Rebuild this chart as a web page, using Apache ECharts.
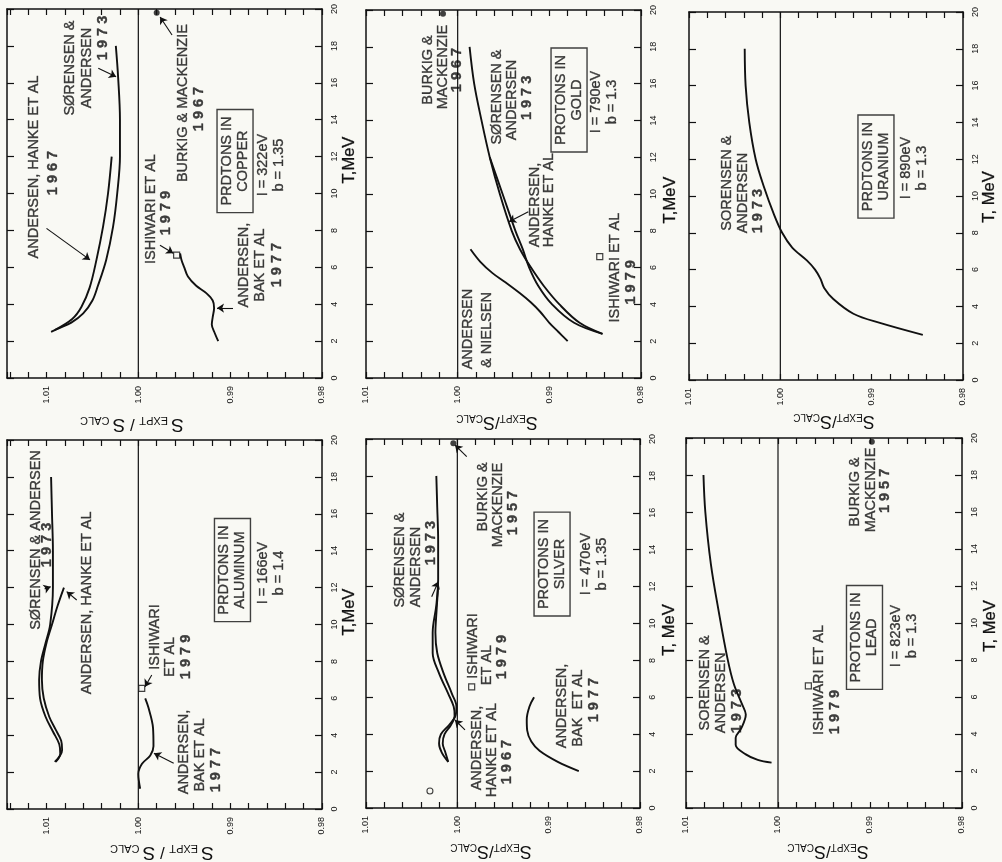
<!DOCTYPE html>
<html>
<head>
<meta charset="utf-8">
<title>Protons: S expt / S calc</title>
<script src="https://cdn.jsdelivr.net/npm/echarts@6.0.0/dist/echarts.min.js"></script>
<style>
html,body{margin:0;padding:0;background:#f9f9f4;}
#chart{width:1002px;height:862px;}
</style>
</head>
<body>
<div id="chart"></div>
<script>
// ================= tick labels =================
const sTickLabels = ['0.98', '0.99', '1.00', '1.01'];
const tTickLabels = ['0', '2', '4', '6', '8', '10', '12', '14', '16', '18', '20'];
const unityRatio = 1.00;

// ================= curves: [T (MeV), S_expt/S_calc] =================
// Copper
const copperSorensen = [[2.5,1.0095],[2.7,1.0086],[3.0,1.0073],[3.5,1.0060],[4.2,1.0050],[5.0,1.0044],[6.4,1.0035],[8.2,1.00275],[10.0,1.0023],[12.0,1.0020],[14.0,1.0020],[16.3,1.0022],[18.0,1.00245]];
const copperHanke = [[2.6,1.0091],[3.2,1.0072],[3.85,1.0062],[4.9,1.0053],[6.4,1.00456],[8.2,1.00384],[10.0,1.0033],[12.0,1.0029]];
const copperBak = [[6.75,0.99545],[6.4,0.9953],[6.0,0.9950],[5.5,0.9946],[5.0,0.9937],[4.6,0.9926],[4.2,0.9919],[3.8,0.99175],[3.3,0.9919],[2.9,0.9920],[2.4,0.99165],[2.0,0.9913]];
const copperIshiwari = [[6.66,0.99583]];
const copperBurkig = [[19.8,0.9980]];

// Gold
const goldSorensen = [[18,0.9987],[16,0.9982],[14,0.9974],[12,0.9965],[10,0.9954],[8,0.9941],[7,0.9932],[6,0.9920],[5,0.9906],[4,0.9889],[3,0.9867],[2.4,0.9842]];
const goldHanke = [[12,0.9965],[10,0.9951],[8,0.9937],[7,0.9929],[6,0.9922],[5,0.9912],[4,0.9897],[3,0.9873],[2.4,0.9842]];
const goldNielsen = [[7.0,0.9986],[6.3,0.9975],[5.7,0.9962],[5.2,0.9948],[4.6,0.9932],[4.1,0.9920],[3.6,0.9910],[3.0,0.9900],[2.5,0.9890],[2.0,0.9880]];
const goldIshiwari = [[6.6,0.9845]];
const goldBurkig = [[19.8,1.0016]];

// Uranium
const uraniumSorensen = [[18.0,1.0039],[16.0,1.0038],[14.0,1.0034],[12.0,1.0027],[10.5,1.0018],[9.0,1.0007],[8.0,0.9998],[7.2,0.9987],[6.5,0.9971],[6.0,0.9962],[5.5,0.9956],[5.0,0.9952],[4.4,0.9942],[3.6,0.9920],[3.1,0.9891],[2.45,0.9844]];

// Aluminum
const aluminumSorensen = [[2.55,1.0090],[3.0,1.0085],[3.5,1.0086],[4.2,1.0093],[5.0,1.0101],[6.0,1.0107],[7.0,1.0108],[8.0,1.0106],[9.0,1.0101],[10.0,1.0096],[12.0,1.0093],[14.0,1.0093],[16.0,1.0094],[18.0,1.0095]];
const aluminumHanke = [[2.55,1.0091],[3.2,1.0083],[3.7,1.0084],[4.3,1.0090],[5.0,1.0097],[6.0,1.0103],[7.0,1.0105],[8.0,1.0104],[9.0,1.0100],[10.0,1.0094],[11.0,1.0088],[12.0,1.0081]];
const aluminumBak = [[1.1,0.9998],[1.9,1.0000],[2.45,0.9996],[2.9,0.9987],[3.4,0.99835],[4.4,0.9984],[5.5,0.9989],[6.0,0.99925]];
const aluminumIshiwari = [[6.54,0.99963]];

// Silver
const silverSorensen = [[2.5,1.0010],[3.0,1.0013],[3.5,1.0016],[4.0,1.0014],[4.5,1.0007],[5.0,1.0003],[5.5,1.0004],[6.2,1.0010],[7.3,1.0020],[8.4,1.0027],[9.5,1.0027],[11.0,1.0023],[12.4,1.0021],[14.5,1.0021],[16.3,1.0022],[18.0,1.0023]];
const silverHanke = [[2.5,1.0010],[3.0,1.0017],[3.5,1.0020],[4.0,1.0018],[4.5,1.0009],[5.0,1.0002],[5.5,1.0001],[6.2,1.0006],[7.3,1.0015],[8.4,1.0022],[9.5,1.0024],[10.5,1.0023],[12.0,1.0021]];
const silverBak = [[6.0,0.9916],[5.5,0.9921],[4.8,0.9924],[4.2,0.99235],[3.6,0.9919],[3.1,0.9910],[2.5,0.9890],[2.0,0.9867]];
const silverIshiwari = [[6.57,0.99843]];
const silverBurkig = [[19.77,1.00044]];
const silverOpenPoint = [[0.92,1.0030]];

// Lead
const leadSorensen = [[18,1.0081],[16,1.0079],[13.2,1.0073],[10.5,1.0064],[8.1,1.0055],[6.7,1.0048],[5.6,1.0039],[5.05,1.0035],[4.3,1.0040],[3.8,1.0046],[3.4,1.0046],[2.9,1.0035],[2.6,1.0022],[2.45,1.0007]];
const leadIshiwari = [[6.6,0.9967]];
const leadBurkig = [[19.8,0.9898]];

// ================= annotations: [text, T, S, kind] =================
const copperNotes = [
  ['ANDERSEN, HANKE ET AL', 11.44, 1.01136], ['1 9 6 7', 11.11, 1.00929, 'year'],
  ['SØRENSEN &', 16.8, 1.00744], ['ANDERSEN', 16.8, 1.00559], ['1 9 7 3', 18.43, 1.00385, 'year'],
  ['ISHIWARI ET AL', 9.16, 0.99862], ['1 9 7 9', 8.94, 0.99699, 'year'],
  ['BURKIG & MACKENZIE', 14.9, 0.99519], ['1 9 6 7', 14.58, 0.99339, 'year'],
  ['PRDTONS IN\nCOPPER', 11.76, 0.98947, 'box'], ['I = 322eV\nb = 1.35', 11.54, 0.98555],
  ['ANDERSEN,', 6.12, 0.98849], ['BAK ET AL', 6.12, 0.98675], ['1 9 7 7', 6.12, 0.98490, 'year']
];
const goldNotes = [
  ['BURKIG &', 16.74, 1.0032], ['MACKENZIE', 16.9, 1.00157], ['1 9 6 7', 16.74, 1.00007, 'year'],
  ['SØRENSEN &', 15.27, 0.99571], ['ANDERSEN', 15.11, 0.99407], ['1 9 7 3', 15.22, 0.99244, 'year'],
  ['PROTONS IN\nGOLD', 15.11, 0.98785, 'box'], ['I = 790eV\nb = 1.3', 15.0, 0.98404],
  ['ANDERSEN,', 9.40, 0.99156], ['HANKE ET AL', 9.67, 0.99004],
  ['ANDERSEN', 2.66, 0.99884], ['& NIELSEN', 2.61, 0.99683],
  ['ISHIWARI ET AL', 6.0, 0.98284], ['1 9 7 9', 5.2, 0.98109, 'year']
];
const uraniumNotes = [
  ['SORENSEN &', 10.7, 1.00584], ['ANDERSEN', 10.16, 1.00409], ['1 9 7 3', 9.18, 1.00245, 'year'],
  ['PRDTONS IN\nURANIUM', 11.6, 0.98953, 'box'], ['I = 890eV\nb = 1.3', 11.52, 0.98536]
];
const aluminumNotes = [
  ['SØRENSEN & ANDERSEN', 14.58, 1.01114], ['1 9 7 3', 14.31, 1.00998, 'year'],
  ['ANDERSEN, HANKE ET AL', 11.17, 1.00562],
  ['ISHIWARI', 9.32, 0.99818], ['ET AL', 8.24, 0.99655], ['1 9 7 9', 8.24, 0.99481, 'year'],
  ['ANDERSEN,', 3.09, 0.99503], ['BAK ET AL', 2.93, 0.99329], ['1 9 7 7', 2.11, 0.99154, 'year'],
  ['PRDTONS IN\nALUMINUM', 12.95, 0.98975, 'box'], ['I = 166eV\nb = 1.4', 12.79, 0.98555]
];
const silverNotes = [
  ['SØRENSEN &', 13.44, 1.00633], ['ANDERSEN', 13.06, 1.00453], ['1 9 7 3', 14.36, 1.00288, 'year'],
  ['BURKIG &', 16.86, 0.99716], ['MACKENZIE', 16.42, 0.99551], ['1 9 5 7', 15.99, 0.99390, 'year'],
  ['ISHIWARI', 8.78, 0.99828], ['ET AL', 7.75, 0.99675], ['1 9 7 9', 8.18, 0.99511, 'year'],
  ['ANDERSEN,', 3.25, 0.99785], ['HANKE ET AL', 3.14, 0.99620], ['1 9 6 7', 2.49, 0.99456, 'year'],
  ['ANDERSEN,', 5.53, 0.98854], ['BAK  ET AL', 5.42, 0.98679], ['1 9 7 7', 5.85, 0.98504, 'year'],
  ['PROTONS IN\nSILVER', 13.22, 0.98963, 'box'], ['I = 470eV\nb = 1.35', 13.22, 0.98504]
];
const leadNotes = [
  ['SORENSEN &', 6.76, 1.00793], ['ANDERSEN', 6.22, 1.00620], ['1 9 7 3', 5.24, 1.00446, 'year'],
  ['ISHIWARI ET AL', 6.92, 0.99554], ['1 9 7 9', 5.19, 0.99380, 'year'],
  ['PROTONS IN\nLEAD', 9.22, 0.99060, 'box'], ['I = 823eV\nb = 1.3', 9.30, 0.98630],
  ['BURKIG &', 17.08, 0.99163], ['MACKENZIE', 17.19, 0.98989], ['1 9 5 7', 17.14, 0.98837, 'year']
];

// arrows: [T from, S from, T to, S to]
const copperArrows = [[8.11,1.0100,6.40,1.00526],[16.79,1.00436,16.33,1.00242],[7.2,0.99764,6.76,0.99619],[18.59,0.99633,19.57,0.99763],[3.79,0.98969,3.79,0.99143]];
const goldArrows = [[9.04,0.99229,8.49,0.99440]];
const uraniumArrows = [];
const aluminumArrows = [[11.93,1.0102,12.05,1.00954],[11.33,1.00671,11.78,1.0078],[7.26,0.99854,6.63,0.99927],[2.48,0.99615,3.02,0.99830]];
const silverArrows = [[11.45,1.00281,12.27,1.00208],[19.04,0.99897,19.67,1.00025],[4.23,0.99916,4.77,1.00026]];
const leadArrows = [];

// ================= layout & styles =================
const INK = '#111111';
const BG = '#f9f9f4';
const FONT = "'Liberation Sans', Arial, Helvetica, sans-serif";

const panels = [
  { rect:{left:7, top:9, width:315, height:369}, sMax:1.0143,
    curves:[copperSorensen, copperHanke, copperBak], squares:copperIshiwari, dots:copperBurkig, circles:[],
    notes:copperNotes, arrows:copperArrows, tName:{text:'T,MeV', x:349, y:160}, sName:{x:132, y:424, wide:true} },
  { rect:{left:366, top:10, width:275, height:368}, sMax:1.01,
    curves:[goldSorensen, goldHanke, goldNielsen], squares:goldIshiwari, dots:goldBurkig, circles:[],
    notes:goldNotes, arrows:goldArrows, tName:{text:'T,MeV', x:670, y:200}, sName:{x:497, y:422, wide:false} },
  { rect:{left:689, top:12, width:274, height:368}, sMax:1.01,
    curves:[uraniumSorensen], squares:[], dots:[], circles:[],
    notes:uraniumNotes, arrows:uraniumArrows, tName:{text:'T, MeV', x:989, y:197}, sName:{x:834, y:421, wide:false} },
  { rect:{left:7, top:440, width:315, height:369}, sMax:1.0143,
    curves:[aluminumSorensen, aluminumHanke, aluminumBak], squares:aluminumIshiwari, dots:[], circles:[],
    notes:aluminumNotes, arrows:aluminumArrows, tName:{text:'T,MeV', x:349, y:612}, sName:{x:162, y:852, wide:true} },
  { rect:{left:366, top:439, width:274, height:369}, sMax:1.01,
    curves:[silverSorensen, silverHanke, silverBak], squares:silverIshiwari, dots:silverBurkig, circles:silverOpenPoint,
    notes:silverNotes, arrows:silverArrows, tName:{text:'T, MeV', x:669, y:630}, sName:{x:491, y:851, wide:false} },
  { rect:{left:686, top:438, width:276, height:370}, sMax:1.01,
    curves:[leadSorensen], squares:leadIshiwari, dots:leadBurkig, circles:[],
    notes:leadNotes, arrows:leadArrows, tName:{text:'T, MeV', x:990, y:626}, sName:{x:828, y:851, wide:false} }
];

function sLabel(v) {
  const txt = v.toFixed(2);
  return (Math.abs(v - Number(txt)) < 1e-6 && sTickLabels.indexOf(txt) >= 0) ? txt : '';
}
function tLabel(v) {
  const k = Math.round(v / 2);
  return Math.abs(v / 2 - k) < 1e-6 ? (tTickLabels[k] || '') : '';
}
const toXY = arr => arr.map(p => [p[1], p[0]]);

const grid = [], xAxis = [], yAxis = [], series = [], graphic = [];

panels.forEach((p, i) => {
  grid.push(Object.assign({ show:false }, p.rect));
  const lineSt = { color:INK, width:1.5 };
  const sBase = { gridIndex:i, type:'value', inverse:true, min:0.98, max:p.sMax, interval:0.002,
    splitLine:{show:false}, axisLine:{show:true, onZero:false, lineStyle:lineSt} };
  xAxis.push(Object.assign({}, sBase, { position:'bottom',
    axisTick:{show:true, inside:true, length:6, lineStyle:{color:INK, width:1.2}},
    axisLabel:{show:true, rotate:90, fontSize:9, fontFamily:FONT, color:INK, margin:8, formatter:sLabel} }));
  xAxis.push(Object.assign({}, sBase, { position:'top',
    axisTick:{show:true, inside:true, length:6, lineStyle:{color:INK, width:1.2}},
    axisLabel:{show:false} }));
  const tBase = { gridIndex:i, type:'value', min:0, max:20, interval:2,
    splitLine:{show:false}, axisLine:{show:true, onZero:false, lineStyle:lineSt} };
  yAxis.push(Object.assign({}, tBase, { position:'right',
    axisTick:{show:true, inside:true, length:7, lineStyle:{color:INK, width:1.2}},
    axisLabel:{show:true, rotate:90, fontSize:9, fontFamily:FONT, color:INK, margin:8, formatter:tLabel} }));
  yAxis.push(Object.assign({}, tBase, { position:'left',
    axisTick:{show:true, inside:true, length:7, lineStyle:{color:INK, width:1.2}},
    axisLabel:{show:false} }));

  const xi = 2 * i, yi = 2 * i;
  // reference line S = 1.00
  series.push({ type:'line', xAxisIndex:xi, yAxisIndex:yi, silent:true, symbol:'none',
    data:[[unityRatio, 0], [unityRatio, 20]], lineStyle:{color:INK, width:1.2}, z:2 });
  // measured curves
  p.curves.forEach(c => series.push({ type:'line', xAxisIndex:xi, yAxisIndex:yi, silent:true,
    symbol:'none', smooth:0.35, data:toXY(c), lineStyle:{color:INK, width:1.9}, z:3 }));
  // Ishiwari open squares
  if (p.squares.length) series.push({ type:'scatter', xAxisIndex:xi, yAxisIndex:yi, silent:true,
    symbol:'rect', symbolSize:6, data:toXY(p.squares), itemStyle:{color:BG, borderColor:INK, borderWidth:1.2}, z:4 });
  // Burkig & Mackenzie filled dots
  if (p.dots.length) series.push({ type:'scatter', xAxisIndex:xi, yAxisIndex:yi, silent:true,
    symbol:'circle', symbolSize:6, data:toXY(p.dots), itemStyle:{color:INK}, z:4 });
  // open circle
  if (p.circles.length) series.push({ type:'scatter', xAxisIndex:xi, yAxisIndex:yi, silent:true,
    symbol:'circle', symbolSize:6, data:toXY(p.circles), itemStyle:{color:BG, borderColor:INK, borderWidth:1.1}, z:4 });
  // annotations + arrows
  series.push({ type:'scatter', xAxisIndex:xi, yAxisIndex:yi, silent:true, symbolSize:1,
    itemStyle:{color:'rgba(0,0,0,0)'}, z:5,
    label:{ show:true, position:'inside', rotate:90, formatter:'{b}', fontSize:14.5, fontFamily:FONT,
      color:INK, lineHeight:16, align:'center', textBorderColor:INK, textBorderWidth:0.35 },
    data:p.notes.map(n => {
      const lab = {};
      if (n[3] === 'year') { lab.fontWeight = 'bold'; }
      if (n[3] === 'box') { lab.borderColor = INK; lab.borderWidth = 1.4; lab.padding = [3, 7, 1, 7]; }
      return { name:n[0], value:[n[2], n[1]], label:lab };
    }),
    markLine:{ silent:true, symbol:['none', 'arrow'], symbolSize:7, animation:false,
      label:{show:false}, lineStyle:{color:INK, width:1.1, type:'solid'},
      data:p.arrows.map(a => [{coord:[a[1], a[0]]}, {coord:[a[3], a[2]]}]) }
  });

  graphic.push({ type:'text', x:p.tName.x, y:p.tName.y, rotation:Math.PI / 2, silent:true,
    style:{ text:p.tName.text, fontSize:16.5, fontFamily:FONT, fill:INK, stroke:INK, lineWidth:0.3,
      align:'center', verticalAlign:'middle' } });
  const sText = p.sName.wide ? '{S|S}{sub| EXPT}{sl| / }{S|S}{sub| CALC}' : '{S|S}{sub|EXPT}{sl|/}{S|S}{sub|CALC}';
  graphic.push({ type:'text', x:p.sName.x, y:p.sName.y, rotation:Math.PI, silent:true,
    style:{ text:sText, fill:INK, align:'center', verticalAlign:'middle', fontFamily:FONT,
      rich:{ S:{fontSize:p.sName.wide ? 19 : 18, fontFamily:FONT, fill:INK},
             sub:{fontSize:p.sName.wide ? 11 : 10, fontFamily:FONT, fill:INK, verticalAlign:'bottom'},
             sl:{fontSize:17, fontFamily:FONT, fill:INK} } } });
});

const chart = echarts.init(document.getElementById('chart'), null, { renderer:'canvas' });
chart.setOption({ backgroundColor:BG, animation:false, grid, xAxis, yAxis, series, graphic });
</script>
</body>
</html>
